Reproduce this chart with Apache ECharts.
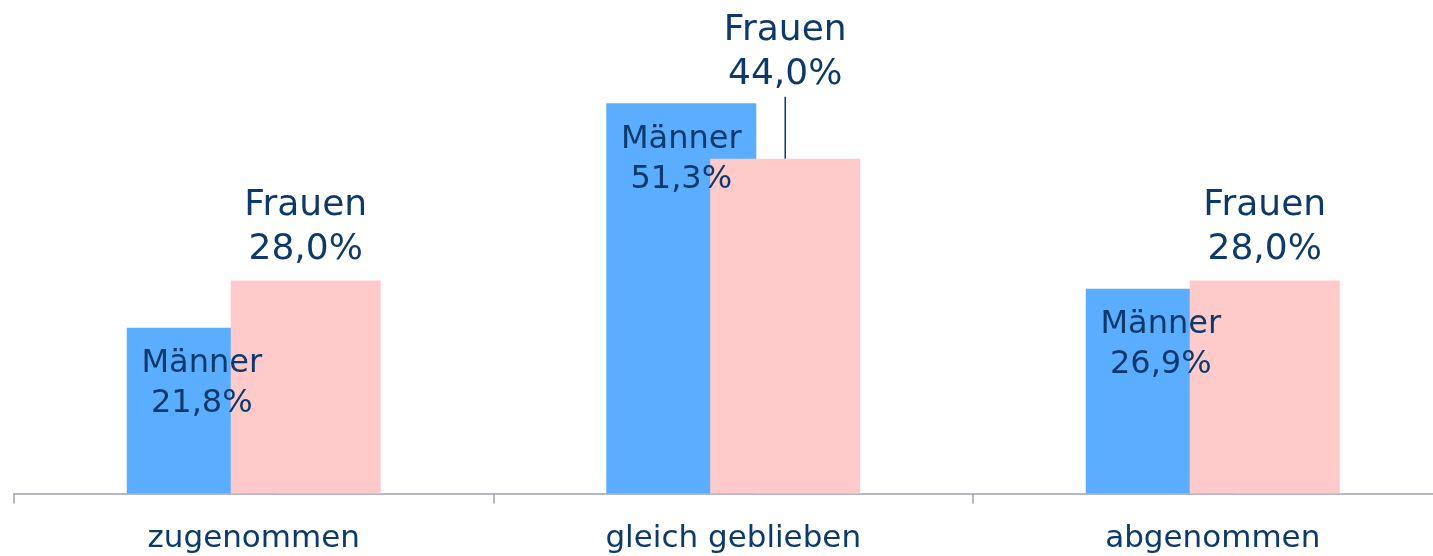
<!DOCTYPE html>
<html>
<head>
<meta charset="utf-8">
<script src="https://cdn.jsdelivr.net/npm/echarts@6/dist/echarts.min.js"></script>
<style>html,body{margin:0;padding:0;background:#fff;}#c{width:1433px;height:556px;}</style>
</head>
<body>
<div id="c"></div>
<script>
var categories = ['zugenommen', 'gleich geblieben', 'abgenommen'];
var maenner = [21.8, 51.3, 26.9];
var frauen = [28.0, 44.0, 28.0];
var maennerName = 'Männer';
var frauenName = 'Frauen';

var TXT = '#0d3a6b';
var FONT = 'DejaVu Sans';
function fmt(v) { return v.toFixed(1).replace('.', ',') + '%'; }

var frauenData = frauen.map(function (v, i) {
  var d = { value: v };
  if (i === 1) {
    d.label = {
      distance: 0,
      formatter: function (p) { return '{t|' + frauenName + '}\n{t|' + fmt(p.value) + '}\n{l|}'; }
    };
  }
  return d;
});

var chart = echarts.init(document.getElementById('c'));
chart.setOption({
  backgroundColor: '#ffffff',
  animation: false,
  grid: { left: 14, width: 1438.5, top: 37, bottom: 62.5, containLabel: false, outerBoundsMode: 'none' },
  xAxis: {
    type: 'category',
    data: categories,
    axisLine: { lineStyle: { color: '#9ea2b2', width: 1.5 } },
    axisTick: { show: true, length: 10, lineStyle: { color: '#9ea2b2', width: 1.5 } },
    axisLabel: { color: TXT, fontFamily: FONT, fontSize: 31, margin: 30, interval: 0 }
  },
  yAxis: { type: 'value', min: 0, max: 60, show: false, splitLine: { show: false } },
  series: [
    {
      name: maennerName,
      type: 'bar',
      data: maenner,
      barWidth: 150,
      barGap: '-30.7%',
      z: 2,
      itemStyle: { color: '#5badff' },
      label: {
        show: true,
        position: 'insideTop',
        distance: 16,
        color: TXT,
        fontFamily: FONT,
        fontSize: 32,
        lineHeight: 40,
        align: 'center',
        formatter: function (p) { return maennerName + '\n' + fmt(p.value); }
      }
    },
    {
      name: frauenName,
      type: 'bar',
      data: frauenData,
      barWidth: 150,
      z: 2,
      itemStyle: { color: '#ffcaca' },
      label: {
        show: true,
        position: 'top',
        distance: 9,
        color: TXT,
        fontFamily: FONT,
        fontSize: 36,
        lineHeight: 44,
        align: 'center',
        formatter: function (p) { return frauenName + '\n' + fmt(p.value); },
        rich: {
          t: { color: TXT, fontFamily: FONT, fontSize: 36, lineHeight: 44 },
          l: { width: 1.5, height: 62, backgroundColor: TXT, lineHeight: 62 }
        }
      }
    }
  ]
});
</script>
</body>
</html>
